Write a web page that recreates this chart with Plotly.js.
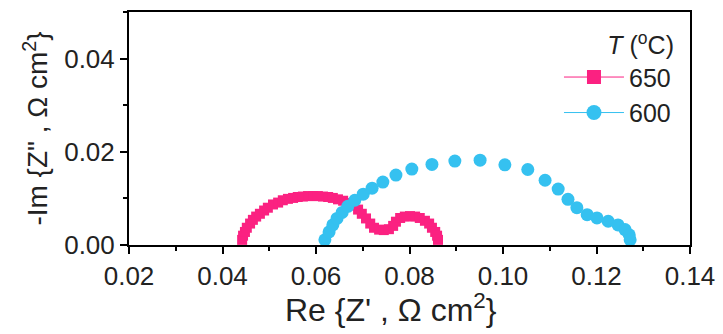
<!DOCTYPE html>
<html>
<head>
<meta charset="utf-8">
<script src="https://cdn.plot.ly/plotly-3.0.1.min.js"></script>
<style>
  html, body { margin: 0; padding: 0; background: #fff; }
  #chart { width: 723px; height: 334px; }
</style>
</head>
<body>
<div id="chart"></div>
<script>
// Nyquist impedance spectra at two temperatures
const seriesNames = ['650', '600'];

// T = 650 °C
const re650 = [0.0442, 0.0444, 0.0448, 0.0452, 0.0459, 0.0465, 0.0472, 0.0480, 0.0489, 0.0497,
  0.0508, 0.0519, 0.0529, 0.0540, 0.0551, 0.0561, 0.0572, 0.0583, 0.0594, 0.0604,
  0.0615, 0.0626, 0.0636, 0.0647, 0.0658, 0.0669, 0.0679, 0.0690, 0.0698, 0.0707,
  0.0716, 0.0724, 0.0735, 0.0745, 0.0756, 0.0765, 0.0771, 0.0780, 0.0790, 0.0801,
  0.0812, 0.0822, 0.0833, 0.0842, 0.0848, 0.0855, 0.0859, 0.0861];
const im650 = [0.0011, 0.0020, 0.0028, 0.0037, 0.0046, 0.0054, 0.0061, 0.0067, 0.0074, 0.0080,
  0.0087, 0.0091, 0.0096, 0.0099, 0.0101, 0.0103, 0.0104, 0.0105, 0.0105, 0.0105,
  0.0104, 0.0103, 0.0101, 0.0098, 0.0095, 0.0090, 0.0085, 0.0076, 0.0067, 0.0057,
  0.0046, 0.0037, 0.0033, 0.0032, 0.0034, 0.0041, 0.0050, 0.0058, 0.0061, 0.0062,
  0.0061, 0.0058, 0.0052, 0.0046, 0.0037, 0.0028, 0.0020, 0.0011];

// T = 600 °C
const re600 = [0.0619, 0.0628, 0.0636, 0.0645, 0.0656, 0.0668, 0.0683, 0.0701, 0.0720, 0.0743,
  0.0771, 0.0805, 0.0848, 0.0897, 0.0951, 0.1004, 0.1053, 0.1090, 0.1118, 0.1139,
  0.1158, 0.1180, 0.1201, 0.1225, 0.1246, 0.1261, 0.1270, 0.1272];
const im600 = [0.0011, 0.0028, 0.0043, 0.0057, 0.0070, 0.0083, 0.0096, 0.0109, 0.0122, 0.0135,
  0.0150, 0.0163, 0.0173, 0.0180, 0.0182, 0.0172, 0.0162, 0.0139, 0.0120, 0.0098,
  0.0080, 0.0065, 0.0058, 0.0051, 0.0043, 0.0033, 0.0022, 0.0011];

const xTickVals = [0.02, 0.04, 0.06, 0.08, 0.10, 0.12, 0.14];
const xTickText = ['0.02', '0.04', '0.06', '0.08', '0.10', '0.12', '0.14'];
const yTickVals = [0.00, 0.02, 0.04];
const yTickText = ['0.00', '0.02', '0.04'];

const pink = '#fb2181';
const cyan = '#35c1f0';
const FONT = 'Liberation Sans, Arial, sans-serif';

const traces = [
  // measured points
  { x: re650, y: im650, type: 'scatter', mode: 'markers', showlegend: false,
    marker: { symbol: 'square', size: 10, color: pink } },
  { x: re600, y: im600, type: 'scatter', mode: 'markers', showlegend: false,
    marker: { symbol: 'circle', size: 13, color: cyan } },
  // legend entries (line + symbol)
  { x: [null], y: [null], type: 'scatter', mode: 'lines+markers', name: seriesNames[0],
    line: { color: pink, width: 1 },
    marker: { symbol: 'square', size: 14, color: pink } },
  { x: [null], y: [null], type: 'scatter', mode: 'lines+markers', name: seriesNames[1],
    line: { color: cyan, width: 1 },
    marker: { symbol: 'circle', size: 15, color: cyan } }
];

const axisCommon = {
  showline: true, linecolor: '#000', linewidth: 2, mirror: true,
  ticks: 'outside', ticklen: 7, tickwidth: 2, tickcolor: '#000',
  showgrid: false, zeroline: false, automargin: false,
  tickfont: { family: FONT, size: 26, color: '#222' }
};

const layout = {
  width: 723, height: 334,
  margin: { l: 129, r: 33, t: 12, b: 89 },
  paper_bgcolor: '#fff', plot_bgcolor: '#fff',
  font: { family: FONT, color: '#222' },
  xaxis: Object.assign({}, axisCommon, {
    range: [0.02, 0.14], tickmode: 'array', tickvals: xTickVals, ticktext: xTickText,
    minor: { dtick: 0.01, ticks: 'outside', ticklen: 4, tickwidth: 2, tickcolor: '#000' }
  }),
  yaxis: Object.assign({}, axisCommon, {
    range: [0, 0.05], tickmode: 'array', tickvals: yTickVals, ticktext: yTickText,
    minor: { dtick: 0.01, ticks: 'outside', ticklen: 4, tickwidth: 2, tickcolor: '#000' },
    title: { text: '-Im {Z" , Ω cm<sup>2</sup>}', font: { family: FONT, size: 28, color: '#222' }, standoff: 8 }
  }),
  // x-axis title, set slightly left of centre
  annotations: [{
    text: "Re {Z' , Ω cm<sup>2</sup>}", xref: 'paper', yref: 'paper',
    x: 0.467, y: -0.272, xanchor: 'center', yanchor: 'middle', showarrow: false,
    font: { family: FONT, size: 32, color: '#222' }
  }],
  legend: {
    x: 0.975, xanchor: 'right', y: 0.958, yanchor: 'top',
    bgcolor: 'rgba(0,0,0,0)', borderwidth: 0,
    itemwidth: 60,
    font: { family: FONT, size: 25, color: '#222' },
    title: { text: '<i>T</i> (<sup>o</sup>C)', side: 'top right', font: { family: FONT, size: 25, color: '#222' } }
  }
};

Plotly.newPlot('chart', traces, layout, { displayModeBar: false, staticPlot: true });
</script>
</body>
</html>
